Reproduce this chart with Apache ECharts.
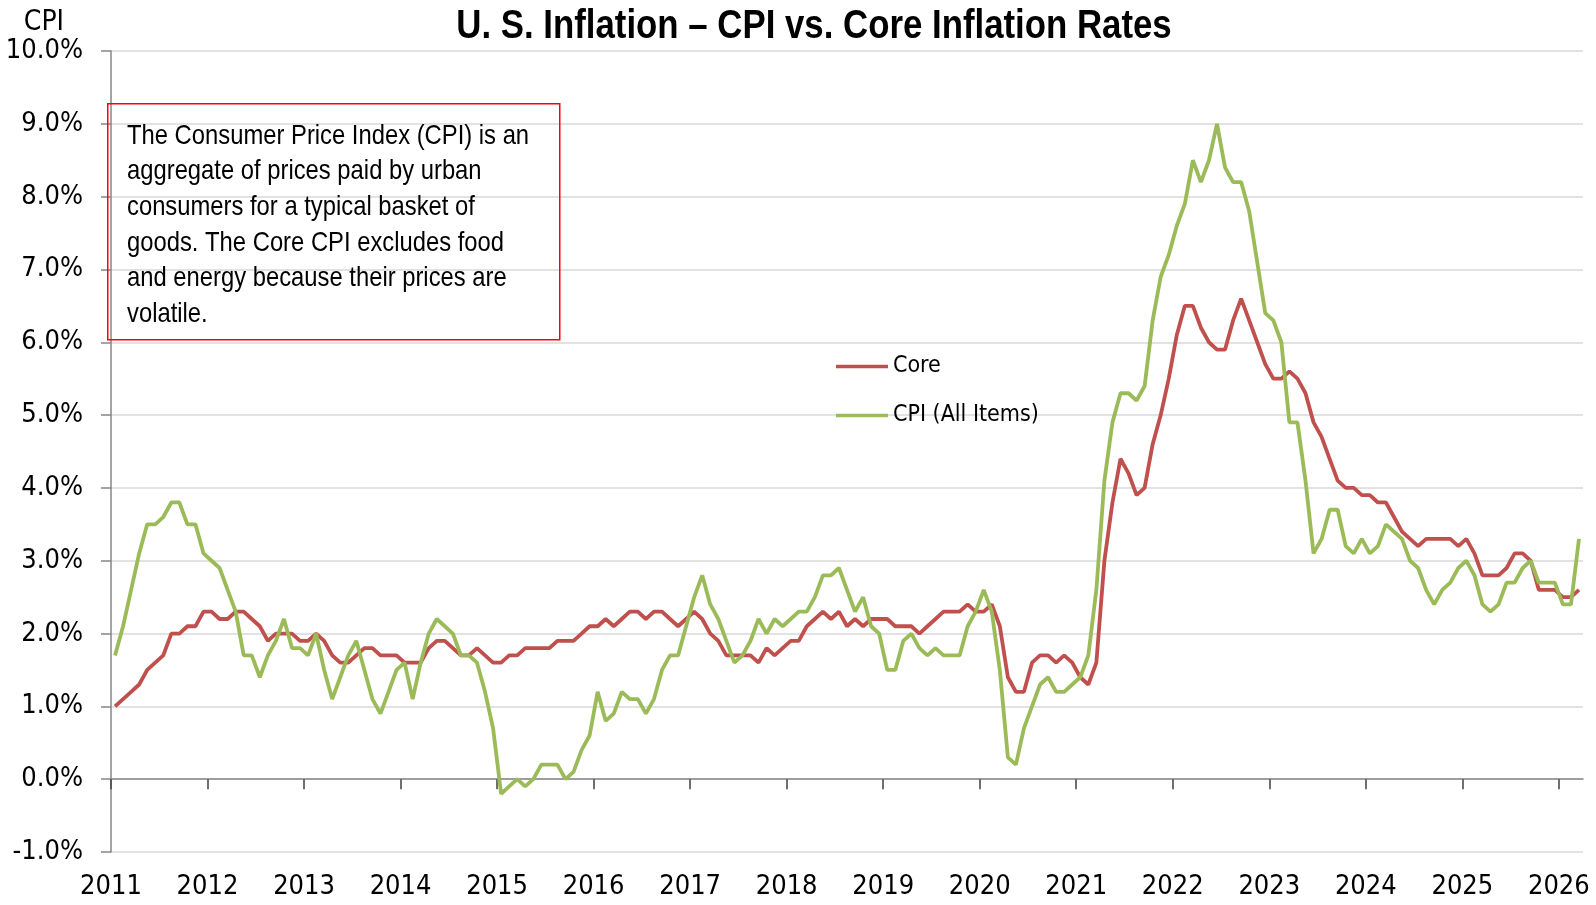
<!DOCTYPE html>
<html>
<head>
<meta charset="utf-8">
<title>U. S. Inflation – CPI vs. Core Inflation Rates</title>
<script src="https://cdn.jsdelivr.net/npm/echarts@6.0.0/dist/echarts.min.js"></script>
<style>
	html, body { margin: 0; padding: 0; background: #fff; }
	#chart { width: 1596px; height: 905px; }
</style>
</head>
<body>
<div id="chart"></div>
<script>
// year labels, one tick every 12 months starting Jan 2011
var years = ['2011', '2012', '2013', '2014', '2015', '2016', '2017', '2018',
	'2019', '2020', '2021', '2022', '2023', '2024', '2025', '2026'];

// monthly y/y rates, Jan 2011 .. Mar 2026
var core = [
	1.0, 1.1, 1.2, 1.3, 1.5, 1.6, 1.7, 2.0, 2.0, 2.1, 2.1, 2.3,
	2.3, 2.2, 2.2, 2.3, 2.3, 2.2, 2.1, 1.9, 2.0, 2.0, 2.0, 1.9,
	1.9, 2.0, 1.9, 1.7, 1.6, 1.6, 1.7, 1.8, 1.8, 1.7, 1.7, 1.7,
	1.6, 1.6, 1.6, 1.8, 1.9, 1.9, 1.8, 1.7, 1.7, 1.8, 1.7, 1.6,
	1.6, 1.7, 1.7, 1.8, 1.8, 1.8, 1.8, 1.9, 1.9, 1.9, 2.0, 2.1,
	2.1, 2.2, 2.1, 2.2, 2.3, 2.3, 2.2, 2.3, 2.3, 2.2, 2.1, 2.2,
	2.3, 2.2, 2.0, 1.9, 1.7, 1.7, 1.7, 1.7, 1.6, 1.8, 1.7, 1.8,
	1.9, 1.9, 2.1, 2.2, 2.3, 2.2, 2.3, 2.1, 2.2, 2.1, 2.2, 2.2,
	2.2, 2.1, 2.1, 2.1, 2.0, 2.1, 2.2, 2.3, 2.3, 2.3, 2.4, 2.3,
	2.3, 2.4, 2.1, 1.4, 1.2, 1.2, 1.6, 1.7, 1.7, 1.6, 1.7, 1.6,
	1.4, 1.3, 1.6, 3.0, 3.8, 4.4, 4.2, 3.9, 4.0, 4.6, 5.0, 5.5,
	6.1, 6.5, 6.5, 6.2, 6.0, 5.9, 5.9, 6.3, 6.6, 6.3, 6.0, 5.7,
	5.5, 5.5, 5.6, 5.5, 5.3, 4.9, 4.7, 4.4, 4.1, 4.0, 4.0, 3.9,
	3.9, 3.8, 3.8, 3.6, 3.4, 3.3, 3.2, 3.3, 3.3, 3.3, 3.3, 3.2,
	3.3, 3.1, 2.8, 2.8, 2.8, 2.9, 3.1, 3.1, 3.0, 2.6, 2.6, 2.6,
	2.5, 2.5, 2.6
];
var cpi = [
	1.7, 2.1, 2.6, 3.1, 3.5, 3.5, 3.6, 3.8, 3.8, 3.5, 3.5, 3.1,
	3.0, 2.9, 2.6, 2.3, 1.7, 1.7, 1.4, 1.7, 1.9, 2.2, 1.8, 1.8,
	1.7, 2.0, 1.5, 1.1, 1.4, 1.7, 1.9, 1.5, 1.1, 0.9, 1.2, 1.5,
	1.6, 1.1, 1.6, 2.0, 2.2, 2.1, 2.0, 1.7, 1.7, 1.6, 1.2, 0.7,
	-0.2, -0.1, 0.0, -0.1, 0.0, 0.2, 0.2, 0.2, 0.0, 0.1, 0.4, 0.6,
	1.2, 0.8, 0.9, 1.2, 1.1, 1.1, 0.9, 1.1, 1.5, 1.7, 1.7, 2.1,
	2.5, 2.8, 2.4, 2.2, 1.9, 1.6, 1.7, 1.9, 2.2, 2.0, 2.2, 2.1,
	2.2, 2.3, 2.3, 2.5, 2.8, 2.8, 2.9, 2.6, 2.3, 2.5, 2.1, 2.0,
	1.5, 1.5, 1.9, 2.0, 1.8, 1.7, 1.8, 1.7, 1.7, 1.7, 2.1, 2.3,
	2.6, 2.3, 1.5, 0.3, 0.2, 0.7, 1.0, 1.3, 1.4, 1.2, 1.2, 1.3,
	1.4, 1.7, 2.6, 4.1, 4.9, 5.3, 5.3, 5.2, 5.4, 6.3, 6.9, 7.2,
	7.6, 7.9, 8.5, 8.2, 8.5, 9.0, 8.4, 8.2, 8.2, 7.8, 7.1, 6.4,
	6.3, 6.0, 4.9, 4.9, 4.1, 3.1, 3.3, 3.7, 3.7, 3.2, 3.1, 3.3,
	3.1, 3.2, 3.5, 3.4, 3.3, 3.0, 2.9, 2.6, 2.4, 2.6, 2.7, 2.9,
	3.0, 2.8, 2.4, 2.3, 2.4, 2.7, 2.7, 2.9, 3.0, 2.7, 2.7, 2.7,
	2.4, 2.4, 3.3
];

var note = 'The Consumer Price Index (CPI) is an\naggregate of prices paid by urban\n' +
	'consumers for a typical basket of\ngoods. The Core CPI excludes food\n' +
	'and energy because their prices are\nvolatile.';

var font = "'DejaVu Sans Condensed', 'DejaVu Sans', sans-serif";
var arial = "'Liberation Sans', Arial, sans-serif";

// months are plotted mid-month: x = month index + 0.5
function toPoints(arr) {
	return arr.map(function (v, i) { return [i + 0.5, v]; });
}
var yearTicks = years.map(function (y, k) { return k * 12; });

var option = {
	animation: false,
	textStyle: { fontFamily: font },
	grid: { left: 111, right: 13, top: 51, bottom: 53, outerBoundsMode: 'none' },
	legend: {
		orient: 'vertical',
		left: 831,
		top: 350,
		icon: 'rect',
		itemWidth: 52,
		itemHeight: 3.5,
		itemGap: 26,
		textStyle: { fontSize: 23, color: '#000', fontFamily: font },
		data: ['Core', 'CPI (All Items)']
	},
	xAxis: [{
		type: 'value',
		min: 0,
		max: 183,
		position: 'bottom',
		axisLine: { onZero: true, lineStyle: { color: '#868686', width: 1.5 } },
		axisTick: { show: true, length: 10, customValues: yearTicks, lineStyle: { color: '#404040', width: 1.5 } },
		axisLabel: { show: false },
		splitLine: { show: false }
	}, {
		type: 'value',
		min: 0,
		max: 183,
		position: 'bottom',
		axisLine: { show: false, onZero: false },
		axisTick: { show: false },
		axisLabel: {
			customValues: yearTicks,
			margin: 21,
			fontSize: 27,
			color: '#000',
			fontFamily: font,
			formatter: function (v) { return years[Math.round(v / 12)]; }
		},
		splitLine: { show: false }
	}],
	yAxis: {
		type: 'value',
		min: -1,
		max: 10,
		interval: 1,
		name: 'CPI',
		nameLocation: 'end',
		nameGap: 14,
		nameTextStyle: { fontSize: 28, color: '#000', align: 'right', padding: [0, 47, 0, 0], fontFamily: font },
		axisLine: { show: true, lineStyle: { color: '#868686', width: 1.5 } },
		axisTick: { show: true, length: 10, lineStyle: { color: '#868686', width: 1.5 } },
		axisLabel: {
			margin: 28,
			fontSize: 27,
			color: '#000',
			fontFamily: font,
			formatter: function (v) { return v.toFixed(1) + '%'; }
		},
		splitLine: { lineStyle: { color: '#D9D9D9', width: 1.5 } }
	},
	graphic: [{
		// chart title, squeezed to look like a narrow face
		type: 'text',
		x: 814,
		y: 27,
		scaleX: 0.87,
		style: {
			text: 'U. S. Inflation – CPI vs. Core Inflation Rates',
			fontSize: 40,
			fontWeight: 'bold',
			fontFamily: arial,
			fill: '#000',
			align: 'center',
			verticalAlign: 'middle'
		},
		z: 10
	}, {
		type: 'rect',
		left: 107,
		top: 103,
		shape: { width: 452, height: 236 },
		style: { fill: 'transparent', stroke: '#FF0000', lineWidth: 1.5 },
		z: 10
	}, {
		type: 'text',
		x: 127,
		y: 118,
		scaleX: 0.85,
		style: { text: note, fontSize: 28, lineHeight: 35.7, fill: '#000', fontFamily: arial },
		z: 10
	}],
	series: [{
		name: 'Core',
		type: 'line',
		xAxisIndex: 0,
		symbol: 'none',
		color: '#C0504D',
		lineStyle: { width: 3.8, color: '#C0504D' },
		data: toPoints(core)
	}, {
		name: 'CPI (All Items)',
		type: 'line',
		xAxisIndex: 0,
		symbol: 'none',
		color: '#9BBB59',
		lineStyle: { width: 3.8, color: '#9BBB59' },
		data: toPoints(cpi)
	}]
};

var myChart = echarts.init(document.getElementById('chart'));
myChart.setOption(option);
</script>
</body>
</html>
